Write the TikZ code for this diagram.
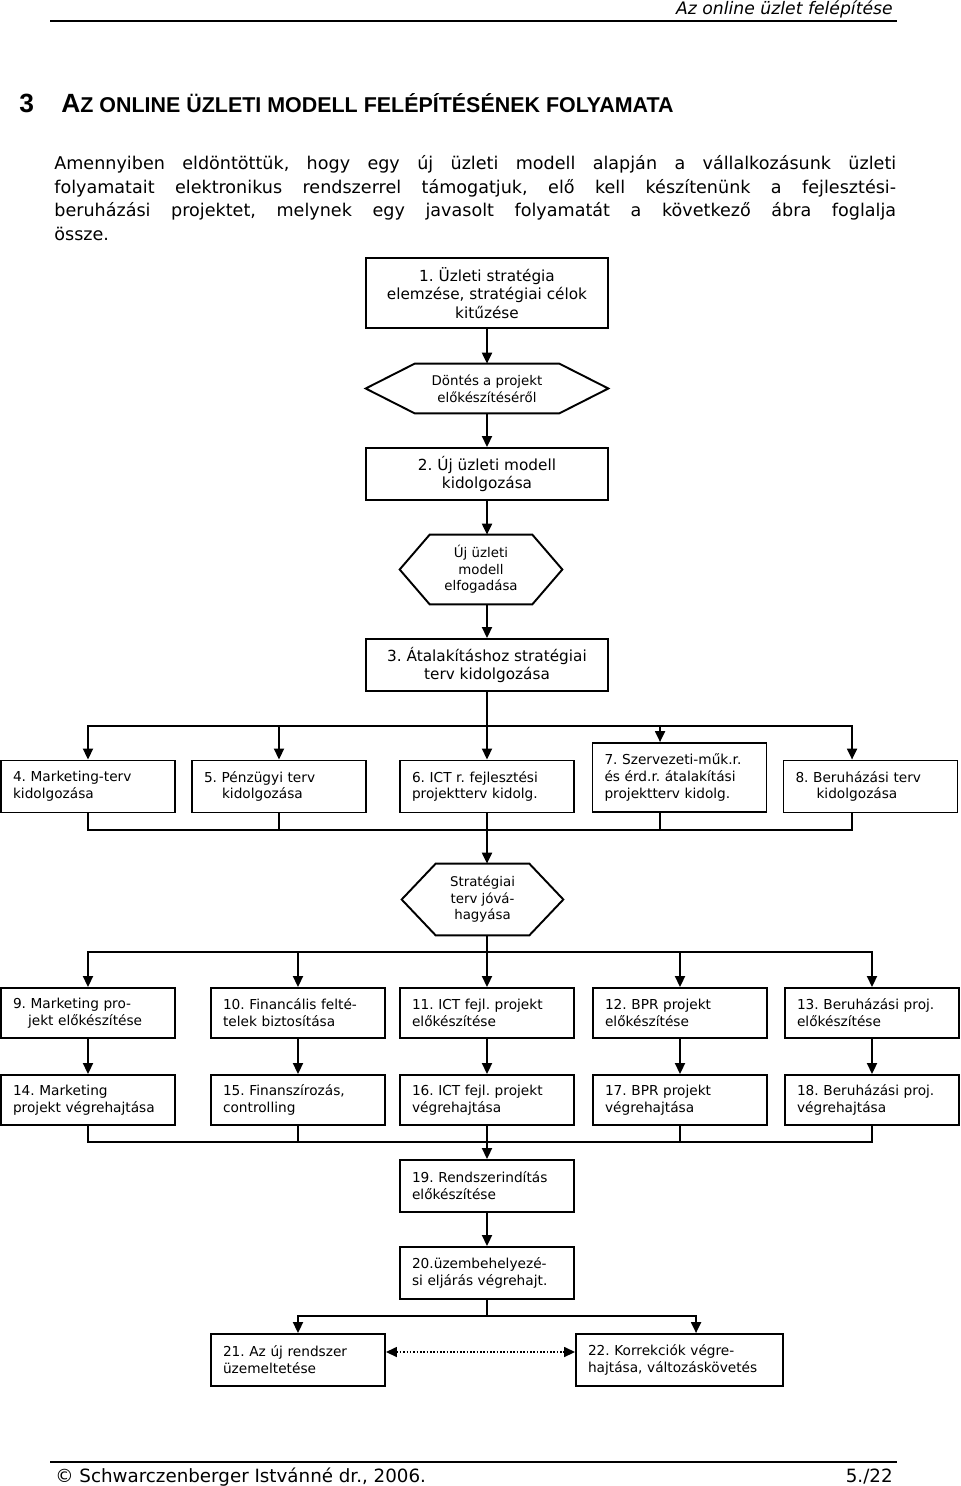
\documentclass[tikz,border=0pt]{standalone}
\usepackage{fontspec}
\setmainfont{DejaVu Sans}
\newfontfamily\headfont{Liberation Sans}
\frenchspacing
\usetikzlibrary{positioning, calc, arrows.meta}

% outline of a decision hexagon round a named node
\newcommand{\hexout}[2]{\draw[line] (#1.west) -- ($(#1.north west)+(#2,0)$)
  -- ($(#1.north east)-(#2,0)$) -- (#1.east) -- ($(#1.south east)-(#2,0)$)
  -- ($(#1.south west)+(#2,0)$) -- cycle;}

\begin{document}
\begin{tikzpicture} [x=0.02cm, y=-0.02cm,
    line/.style={line width=1.1pt},
    arr/.style={line, -{Triangle[length=0.22cm, width=0.2cm]}},
    dotarr/.style={line width=0.9pt, densely dotted,
      {Triangle[length=0.22cm, width=0.2cm]}-{Triangle[length=0.22cm, width=0.2cm]}},
    box/.style={draw, line width=1.1pt, align=center, minimum width=4.84cm,
      font=\fontsize{8.7}{10.6}\selectfont},
    rowbox/.style={draw, line width=1.1pt, align=left, text width=3cm,
      inner xsep=0.24cm, inner ysep=0pt, minimum height=1.04cm,
      font=\fontsize{7.8}{9.6}\selectfont},
    hexa/.style={align=center, inner sep=0pt, font=\fontsize{7.6}{9.4}\selectfont},
    para/.style={anchor=base west, inner sep=0pt, font=\fontsize{10}{12}\selectfont}]

        \useasboundingbox (0,0) rectangle (960,1486);

        % page head
        \node (hdr) [anchor=base east, inner sep=0pt, font=\fontsize{9.8}{11}\selectfont\itshape]
            at (893,15) {Az online üzlet felépítése};
        \draw [line width=0.8pt] (50,21) -- (897,21);
        \node (num) [anchor=base west, inner sep=0pt, font=\headfont\bfseries\fontsize{15}{17}\selectfont]
            at (19,113) {3};
        \node (title) [anchor=base west, inner sep=0pt, font=\headfont\bfseries] at (61,113)
            {{\fontsize{15}{17}\selectfont A}{\fontsize{12.2}{14}\selectfont Z ONLINE ÜZLETI MODELL FELÉPÍTÉSÉNEK FOLYAMATA}};
        \node (p1) [para] at (54,170) {\hbox to 16.84cm{Amennyiben eldöntöttük, hogy egy új üzleti modell alapján a vállalkozásunk üzleti}};
        \node (p2) [para] at (54,194) {\hbox to 16.84cm{folyamatait elektronikus rendszerrel támogatjuk, elő kell készítenünk a fejlesztési-}};
        \node (p3) [para] at (54,217) {\hbox to 16.84cm{beruházási projektet, melynek egy javasolt folyamatát a következő ábra foglalja}};
        \node (p4) [para] at (54,241) {össze.};

        % main chain
        \node (b1) [box, minimum height=1.4cm] at (487,293) {1. Üzleti stratégia\\elemzése, stratégiai célok\\kitűzése};
        \node (h1) [hexa, minimum width=4.84cm, minimum height=0.98cm] at (487,388.5) {Döntés a projekt\\előkészítéséről};
        \node (b2) [box, minimum height=1.04cm] at (487,474) {2. Új üzleti modell\\kidolgozása};
        \node (h2) [hexa, minimum width=3.24cm, minimum height=1.38cm] at (481,569.5) {Új üzleti\\modell\\elfogadása};
        \node (b3) [box, minimum height=1.04cm] at (487,665) {3. Átalakításhoz stratégiai\\terv kidolgozása};
        \hexout{h1}{49}
        \hexout{h2}{30}

        % plans
        \node (b4) [rowbox] at (88,786.5) {4. Marketing-terv\\kidolgozása};
        \node (b5) [rowbox] at (279,786.5) {5. Pénzügyi terv\\\hspace*{0.36cm}kidolgozása};
        \node (b6) [rowbox] at (487,786.5) {6. ICT r. fejlesztési\\projektterv kidolg.};
        \node (b7) [rowbox, minimum height=1.38cm] at (679.5,777.5) {7. Szervezeti-műk.r.\\és érd.r. átalakítási\\projektterv kidolg.};
        \node (b8) [rowbox] at (870.5,786.5) {8. Beruházási terv\\\hspace*{0.42cm}kidolgozása};
        \node (h3) [hexa, minimum width=3.22cm, minimum height=1.42cm] at (482.5,899.5) {Stratégiai\\terv jóvá-\\hagyása};
        \hexout{h3}{34}

        % preparation and execution
        \node (b9) [rowbox, minimum height=1cm] at (88,1013) {9. Marketing pro-\\\hspace*{0.3cm}jekt előkészítése};
        \node (b10) [rowbox, minimum height=1cm] at (298,1013) {10. Financális felté-\\telek biztosítása};
        \node (b11) [rowbox, minimum height=1cm] at (487,1013) {11. ICT fejl. projekt\\előkészítése};
        \node (b12) [rowbox, minimum height=1cm] at (680,1013) {12. BPR projekt\\előkészítése};
        \node (b13) [rowbox, minimum height=1cm] at (872,1013) {13. Beruházási proj.\\előkészítése};
        \node (b14) [rowbox, minimum height=1cm] at (88,1100) {14. Marketing\\\mbox{projekt végrehajtása}};
        \node (b15) [rowbox, minimum height=1cm] at (298,1100) {15. Finanszírozás,\\controlling};
        \node (b16) [rowbox, minimum height=1cm] at (487,1100) {16. ICT fejl. projekt\\végrehajtása};
        \node (b17) [rowbox, minimum height=1cm] at (680,1100) {17. BPR projekt\\végrehajtása};
        \node (b18) [rowbox, minimum height=1cm] at (872,1100) {18. Beruházási proj.\\végrehajtása};

        % start up
        \node (b19) [rowbox] at (487,1186) {19. Rendszerindítás\\előkészítése};
        \node (b20) [rowbox] at (487,1273) {20.üzembehelyezé-\\si eljárás végrehajt.};
        \node (b21) [rowbox] at (298,1360) {21. Az új rendszer\\üzemeltetése};
        \node (b22) [rowbox, text width=3.66cm] at (679.5,1360) {22. Korrekciók végre-\\hajtása, változáskövetés};

        \coordinate (s1) at (487,726);
        \coordinate (c1) at (487,830);
        \coordinate (s2) at (487,952);
        \coordinate (c2) at (487,1142);
        \coordinate (s3) at (487,1316);
        \coordinate (t7) at ($(b7.north west)+(68.5,0)$);
        \coordinate (t8) at ($(b8.north west)+(69.5,0)$);
        \coordinate (t22) at ($(b22.north west)+(121,0)$);

        \path [arr]
            (b1) edge (h1) (h1) edge (b2)
            (b2.south) edge (b2.south |- h2.north)
            (h2.south -| b3.north) edge (b3.north);
        \draw [line] (b3.south) -- (s1);
        \foreach \n in {b4, b5, b6, t7, t8} \draw [arr] (s1) -| (\n);
        \foreach \n in {b4, b5} \draw [line] (\n.south) |- (c1);
        \draw [line] (b7.south -| t7) |- (c1);
        \draw [line] (b8.south -| t8) |- (c1);
        \draw [arr] (b6.south) -- (b6.south |- h3.north);
        \draw [line] (b6.south |- h3.south) -- (s2);
        \foreach \n in {9,...,13} \draw [arr] (s2) -| (b\n.north);
        \foreach \n [evaluate=\n as \m using int(\n+5)] in {9,...,13}
            \draw [arr] (b\n.south) -- (b\m.north);
        \foreach \n in {14, 15, 17, 18} \draw [line] (b\n.south) |- (c2);
        \path [arr] (b16) edge (b19) (b19) edge (b20);
        \draw [line] (b20.south) -- (s3);
        \draw [arr] (s3) -| (b21.north);
        \draw [arr] (s3) -| (t22);
        \draw [dotarr] ($(b21.east)+(0,-8)$) -- ($(b22.west)+(0,-8)$);

        % page foot
        \draw [line width=0.8pt] (50,1462) -- (897,1462);
        \node (copy) [anchor=base west, inner sep=0pt, font=\fontsize{10.4}{12}\selectfont]
            at (55,1482) {© Schwarczenberger Istvánné dr., 2006.};
        \node (page) [anchor=base east, inner sep=0pt, font=\fontsize{10.4}{12}\selectfont]
            at (893,1482) {5./22};

\end{tikzpicture}
\end{document}
